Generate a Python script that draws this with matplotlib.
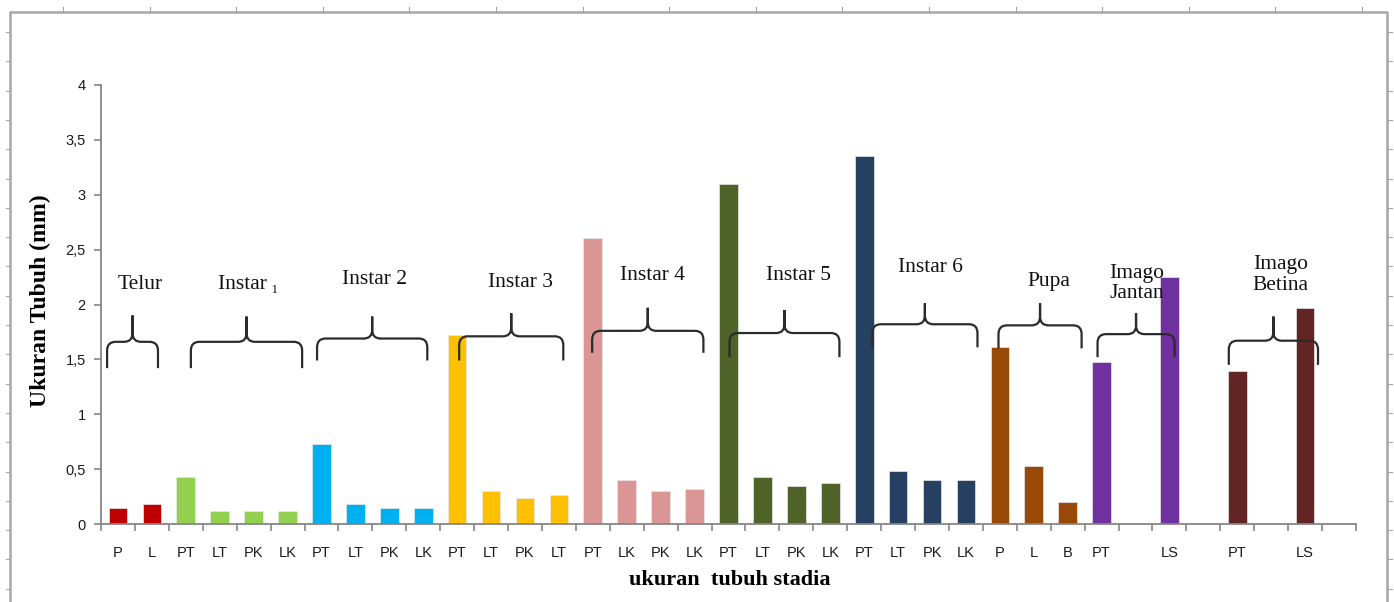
import numpy as np
import matplotlib
matplotlib.use('Agg')
import matplotlib.pyplot as plt
from matplotlib.path import Path
from matplotlib.patches import PathPatch

# bar labels along the x axis (blank slots are empty categories)
labels = ['P', 'L',
          'PT', 'LT', 'PK', 'LK',
          'PT', 'LT', 'PK', 'LK',
          'PT', 'LT', 'PK', 'LT',
          'PT', 'LK', 'PK', 'LK',
          'PT', 'LT', 'PK', 'LK',
          'PT', 'LT', 'PK', 'LK',
          'P', 'L', 'B',
          'PT', '', 'LS', '',
          'PT', '', 'LS', '']
values = [0.15, 0.18,
          0.43, 0.12, 0.12, 0.12,
          0.73, 0.18, 0.15, 0.15,
          1.72, 0.30, 0.24, 0.26,
          2.61, 0.40, 0.30, 0.32,
          3.10, 0.43, 0.35, 0.37,
          3.35, 0.48, 0.40, 0.40,
          1.61, 0.53, 0.20,
          1.48, np.nan, 2.25, np.nan,
          1.39, np.nan, 1.97, np.nan]

# stage groups
group_names = ['Telur', 'Instar\u2009\u2081', 'Instar 2', 'Instar 3', 'Instar 4',
               'Instar 5', 'Instar 6', 'Pupa', 'Imago\nJantan', 'Imago\nBetina']
group_start = [0, 2, 6, 10, 14, 18, 22, 26, 29, 33]
group_count = [2, 4, 4, 4, 4, 4, 4, 3, 3, 3]
group_colors = ['#C00000', '#92D050', '#00B0F0', '#FFC000', '#D99694',
                '#4F6228', '#254061', '#984807', '#7030A0', '#632523']

# curly brace annotations above each group (data units)
brace_left = [-0.32, 2.15, 5.87, 10.06, 13.98, 18.03, 22.24, 25.96, 28.88, 32.75]
brace_right = [1.18, 5.43, 9.12, 13.13, 17.26, 21.27, 25.34, 28.41, 31.15, 35.38]
brace_low = [1.42, 1.42, 1.49, 1.49, 1.56, 1.52, 1.61, 1.60, 1.52, 1.45]
brace_mid = [1.66, 1.66, 1.69, 1.71, 1.76, 1.74, 1.82, 1.81, 1.73, 1.67]
brace_top = [1.90, 1.89, 1.89, 1.92, 1.97, 1.95, 2.01, 2.01, 1.92, 1.89]
name_x = [0.65, 3.84, 7.55, 11.86, 15.75, 20.06, 23.95, 27.44, 30.03, 34.28]
name_y = [2.18, 2.18, 2.23, 2.20, 2.26, 2.26, 2.34, 2.21, 2.19, 2.27]

W, H = 1394, 602
serif = ['Liberation Serif', 'DejaVu Serif']
grey = '#868686'

bar_colors = ['white'] * len(labels)
for s, n, c in zip(group_start, group_count, group_colors):
    for i in range(s, s + n):
        bar_colors[i] = c

fig = plt.figure(figsize=(W / 100, H / 100), dpi=100)
ax = fig.add_axes([101 / W, 1 - 524 / H, 1255 / W, 439 / H])

x = np.arange(len(labels))
ax.bar(x, values, width=0.55, color=bar_colors, edgecolor='#e8e8e8', linewidth=0.5)

ax.set_xlim(-0.5, len(labels) - 0.5)
ax.set_ylim(0, 4)
for side in ['top', 'right']:
    ax.spines[side].set_visible(False)
for side in ['left', 'bottom']:
    ax.spines[side].set_color(grey)
    ax.spines[side].set_linewidth(1.3)

yt = np.arange(0, 4.01, 0.5)
ax.set_yticks(yt, [('%g' % v).replace('.', ',') for v in yt])
ax.tick_params(axis='y', length=5, color=grey, width=1.2, pad=6, labelsize=10.5)
ax.set_xticks(x, labels)
ax.set_xticks(np.arange(-0.5, len(labels), 1), minor=True)
ax.tick_params(axis='x', which='major', length=0, pad=16, labelsize=10.5)
ax.tick_params(axis='x', which='minor', length=5, color=grey, width=1.2)
for lab in ax.get_xticklabels() + ax.get_yticklabels():
    lab.set_fontfamily('Liberation Sans')
    lab.set_color('#1a1a1a')

# braces + group names
for i in range(len(group_names)):
    x0, x1 = brace_left[i], brace_right[i]
    xm = (x0 + x1) / 2
    lo, md, tp = brace_low[i], brace_mid[i], brace_top[i]
    rx, ry = 0.25, 0.08
    verts = [(x0, lo), (x0, md - ry), (x0, md), (x0 + rx, md),
             (xm - rx, md), (xm, md), (xm, md + ry), (xm, tp),
             (xm, md + ry), (xm, md), (xm + rx, md),
             (x1 - rx, md), (x1, md), (x1, md - ry), (x1, lo)]
    codes = [Path.MOVETO, Path.LINETO, Path.CURVE3, Path.CURVE3,
             Path.LINETO, Path.CURVE3, Path.CURVE3, Path.LINETO,
             Path.LINETO, Path.CURVE3, Path.CURVE3,
             Path.LINETO, Path.CURVE3, Path.CURVE3, Path.LINETO]
    ax.add_patch(PathPatch(Path(verts, codes), facecolor='none',
                           edgecolor='#2b2b2b', linewidth=1.6, clip_on=False))
    ax.text(name_x[i], name_y[i], group_names[i], ha='center', va='center',
            fontsize=15.5, family=serif, linespacing=1.1, color='#111111')

fig.text(40 / W, 1 - 301 / H, 'Ukuran Tubuh (mm)', rotation=90, ha='center',
         va='center', fontsize=17, fontweight='bold', family=serif)
fig.text(730 / W, 1 - 580 / H, 'ukuran  tubuh stadia', ha='center',
         va='center', fontsize=16, fontweight='bold', family=serif)

# outer chart frame with small ruler marks
frame = '#a6a6a6'
def fline(xs, ys, lw=1.8):
    fig.add_artist(plt.Line2D([p / W for p in xs], [1 - p / H for p in ys],
                              color=frame, linewidth=lw))
fline([10, 10, 1387, 1387], [H, 12, 12, H])
for k in range(16):
    px = 63 + 86.6 * k
    if px < W:
        fline([px, px], [7, 12], lw=0.8)
for k in range(21):
    py = 32 + 29.3 * k
    if py < H:
        fline([6, 10], [py, py], lw=0.8)
        fline([1387, 1392], [py, py], lw=0.8)

fig.savefig('out.png', dpi=100)
